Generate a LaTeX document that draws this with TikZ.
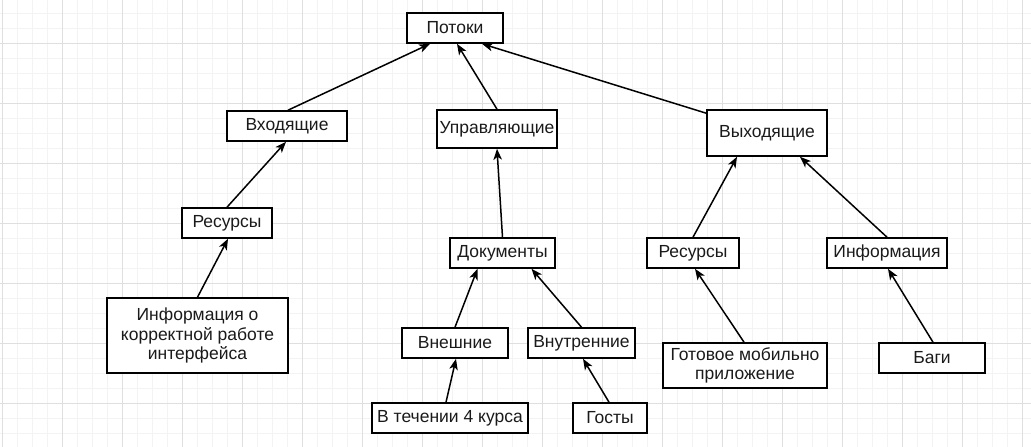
\documentclass[tikz,border=0pt]{standalone}
\usepackage{fontspec}
\setmainfont{Liberation Sans}
\usetikzlibrary{arrows.meta}
\definecolor{gridmajor}{HTML}{DFDFDF}
\definecolor{gridminor}{HTML}{F3F3F3}
\definecolor{txt}{HTML}{1A1A1A}
\begin{document}
\begin{tikzpicture}[x=1pt,y=-1pt,
  box/.style={draw=black,line width=1.6pt,fill=white,rectangle,inner sep=0pt,
    text=txt,align=center,font=\fontsize{17.5}{19.5}\selectfont},
  conn/.style={line width=1.5pt,-{Stealth[length=11pt,width=8.5pt,inset=3pt]}},
  minorline/.style={gridminor,line width=0.8pt},
  majorline/.style={gridmajor,line width=1pt}]
\useasboundingbox (0,0) rectangle (1031,447);
\fill[white] (0,0) rectangle (1031,447);
\foreach \x in {2,17,...,1031} \draw[minorline] (\x,0) -- (\x,447);
\foreach \y in {13,28,...,447} \draw[minorline] (0,\y) -- (1031,\y);
\foreach \x in {2,62,...,1031} \draw[majorline] (\x,0) -- (\x,447);
\foreach \y in {43,103,...,447} \draw[majorline] (0,\y) -- (1031,\y);

\node[box,minimum width=96pt,minimum height=30pt] (potoki) at (455,28) {Потоки};
\node[box,minimum width=120pt,minimum height=30pt] (vhod) at (287,126) {Входящие};
\node[box,minimum width=120pt,minimum height=38pt] (uprav) at (497,129) {Управляющие};
\node[box,minimum width=120pt,minimum height=46pt] (vyhod) at (767,133) {Выходящие};
\node[box,minimum width=90pt,minimum height=30pt] (res1) at (227,223) {Ресурсы};
\node[box,minimum width=181pt,minimum height=75pt] (info1) at (197.5,335.5) {Информация о\\корректной работе\\интерфейса};
\node[box,minimum width=105pt,minimum height=30pt] (docs) at (502.5,253) {Документы};
\node[box,minimum width=106pt,minimum height=30pt] (vnesh) at (455,343) {Внешние};
\node[box,minimum width=107pt,minimum height=30pt] (vnutr) at (581.5,343) {Внутренние};
\node[box,minimum width=156pt,minimum height=30pt] (kurs) at (450,418) {В течении 4 курса};
\node[box,minimum width=74pt,minimum height=30pt] (gosty) at (610,418) {Госты};
\node[box,minimum width=92pt,minimum height=30pt] (res2) at (693,253) {Ресурсы};
\node[box,minimum width=120pt,minimum height=30pt] (info2) at (887,253) {Информация};
\node[box,minimum width=164pt,minimum height=45pt] (app) at (745,365.5) {Готовое мобильно\\приложение};
\node[box,minimum width=106pt,minimum height=30pt] (bagi) at (932,358) {Баги};

\draw[conn] ([xshift=1pt]vhod.north) -- ([xshift=-25pt]potoki.south);
\draw[conn] (uprav.north) -- ([xshift=2pt]potoki.south);
\draw[conn] ([yshift=-4pt]vyhod.north west) -- ([xshift=27pt]potoki.south);
\draw[conn] (res1.north) -- ([xshift=-1pt]vhod.south);
\draw[conn] (info1.north) -- ([xshift=1pt]res1.south);
\draw[conn] (docs.north) -- ([xshift=-0pt]uprav.south);
\draw[conn] (vnesh.north) -- ([xshift=-25pt]docs.south);
\draw[conn] (vnutr.north) -- ([xshift=29pt]docs.south);
\draw[conn] ([xshift=-4pt]kurs.north) -- ([xshift=1pt]vnesh.south);
\draw[conn] ([xshift=-1pt]gosty.north) -- ([xshift=1.5pt]vnutr.south);
\draw[conn] (res2.north) -- ([xshift=-30pt]vyhod.south);
\draw[conn] (info2.north) -- ([xshift=33pt]vyhod.south);
\draw[conn] ([xshift=-1pt]app.north) -- ([xshift=2pt]res2.south);
\draw[conn] ([xshift=1pt]bagi.north) -- ([xshift=1pt]info2.south);
\end{tikzpicture}
\end{document}
